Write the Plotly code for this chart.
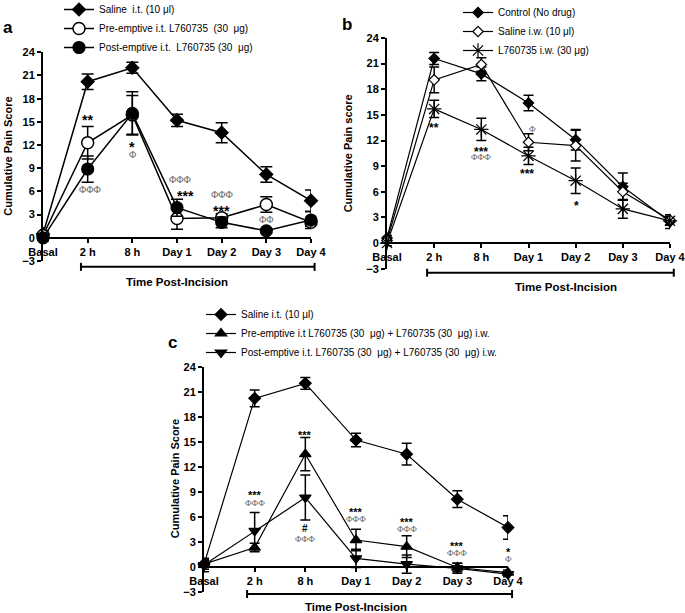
import plotly.graph_objects as go

W, H = 685, 613
times = ["Basal", "2 h", "8 h", "Day 1", "Day 2", "Day 3", "Day 4"]
yticks = [-3, 0, 3, 6, 9, 12, 15, 18, 21, 24]

# ---- panel a ----
a_saline = [0.5, 20.2, 22.0, 15.2, 13.6, 8.2, 4.8]
a_saline_err = [0.4, 1.0, 0.7, 0.8, 1.3, 1.0, 1.4]
a_pre = [0.3, 12.3, 15.9, 2.5, 2.6, 4.3, 2.0]
a_pre_err = [0.4, 2.1, 2.5, 1.4, 0.5, 1.0, 0.5]
a_post = [0.0, 8.9, 16.1, 3.9, 2.0, 0.9, 2.3]
a_post_err = [0.4, 1.7, 2.8, 1.1, 0.7, 0.3, 1.1]
a_marks = [("2 h", 15.7, "**", 0.0), ("2 h", 6.2, "ΦΦΦ", 0.05), ("8 h", 12.2, "*", 0.0),
           ("8 h", 10.8, "Φ", 0.0), ("Day 1", 7.6, "ΦΦΦ", 0.07), ("Day 1", 5.8, "***", 0.18),
           ("Day 2", 5.6, "ΦΦΦ", 0.0), ("Day 2", 3.9, "***", 0.0), ("Day 3", 2.4, "ΦΦ", 0.0)]

# ---- panel b ----
b_control = [0.6, 21.6, 19.8, 16.4, 12.1, 6.6, 2.5]
b_control_err = [0.3, 0.7, 0.8, 0.9, 1.2, 1.6, 0.8]
b_saline = [0.3, 19.1, 20.9, 11.8, 11.4, 6.0, 2.7]
b_saline_err = [0.3, 1.5, 0.8, 1.0, 1.8, 1.0, 0.6]
b_drug = [0.0, 15.7, 13.3, 10.2, 7.3, 4.0, 2.6]
b_drug_err = [0.3, 1.0, 1.3, 1.0, 1.5, 1.1, 0.5]
b_marks = [("2 h", 13.8, "**", 0.0), ("8 h", 11.05, "***", 0.0), ("8 h", 10.07, "ΦΦΦ", 0.0),
           ("Day 1", 13.4, "Φ", 0.08), ("Day 1", 8.5, "***", -0.04), ("Day 2", 4.75, "*", 0.02)]

# ---- panel c ----
c_saline = [0.3, 20.2, 22.0, 15.2, 13.5, 8.1, 4.7]
c_saline_err = [0.4, 1.0, 0.7, 0.8, 1.3, 1.0, 1.4]
c_pre = [0.3, 2.3, 13.5, 3.2, 2.4, -0.1, -0.7]
c_pre_err = [0.6, 0.5, 2.0, 1.3, 1.3, 0.5, 0.3]
c_post = [0.2, 4.3, 8.3, 1.0, 0.3, -0.2, -0.9]
c_post_err = [0.8, 2.2, 2.7, 1.1, 1.1, 0.6, 0.3]
c_marks = [("2 h", 8.9, "***", 0.0), ("2 h", 7.7, "ΦΦΦ", 0.0), ("8 h", 16.2, "***", 0.0),
           ("8 h", 4.6, "#", 0.0), ("8 h", 3.3, "ΦΦΦ", 0.0), ("Day 1", 6.9, "***", 0.0),
           ("Day 1", 5.7, "ΦΦΦ", 0.0), ("Day 2", 5.7, "***", 0.0), ("Day 2", 4.5, "ΦΦΦ", 0.0),
           ("Day 3", 2.8, "***", 0.0), ("Day 3", 1.6, "ΦΦΦ", 0.0), ("Day 4", 2.1, "*", 0.0),
           ("Day 4", 0.9, "Φ", 0.0)]

# panel geometry in pixels: (x of Basal, x of Day 4), (y of 24, y of -3)
panels = {
    "a": dict(px=(43, 311), py=(52.3, 261.0), xa="x", ya="y", leg="legend",
              ytitle="Cumulative Pain Score", ytx=8, tpi=3.0, brk=-3.76, toff=15, lab=(8, 27),
              leg_xy=(59, -5), star=14, phi=10, ms=11, lw=1.5, ew=6),
    "b": dict(px=(387, 670), py=(38.0, 268.7), xa="x2", ya="y2", leg="legend2",
              ytitle="Cumulative Pain score", ytx=348, tpi=3.8, brk=-3.47, toff=14, lab=(347, 25),
              leg_xy=(458, -2), star=12, phi=9, ms=9, lw=1.2, ew=5),
    "c": dict(px=(204, 508), py=(366.7, 591.7), xa="x3", ya="y3", leg="legend3",
              ytitle="Cumulative Pain Score", ytx=175, tpi=3.0, brk=-3.28, toff=13, lab=(172, 342),
              leg_xy=(201, 300), star=11, phi=9, ms=10, lw=1.2, ew=5),
}

fig = go.Figure()

def add(p, name, y, err, symbol, fill, size, lwid=1.2):
    P = panels[p]
    fig.add_trace(go.Scatter(
        x=times, y=y, name=name, mode="lines+markers", xaxis=P["xa"], yaxis=P["ya"],
        legend=P["leg"], cliponaxis=False,
        line=dict(color="black", width=P["lw"]),
        marker=dict(symbol=symbol, size=size, color=fill, line=dict(color="black", width=lwid)),
        error_y=dict(type="data", array=err, color="black", thickness=1.5, width=P["ew"]),
    ))

add("a", "Saline  i.t. (10 μl)", a_saline, a_saline_err, "diamond", "black", 10)
add("a", "Pre-emptive i.t. L760735  (30  μg)", a_pre, a_pre_err, "circle", "white", 12, 1.5)
add("a", "Post-emptive i.t.  L760735 (30  μg)", a_post, a_post_err, "circle", "black", 12)
add("b", "Control (No drug)", b_control, b_control_err, "diamond", "black", 8)
add("b", "Saline i.w. (10 μl)", b_saline, b_saline_err, "diamond", "white", 8, 1.2)
add("b", "L760735 i.w. (30 μg)", b_drug, b_drug_err, "asterisk-open", "black", 12, 1.2)
add("c", "Saline i.t. (10 μl)", c_saline, c_saline_err, "diamond", "black", 9)
add("c", "Pre-emptive i.t L760735 (30  μg) + L760735 (30  μg) i.w.", c_pre, c_pre_err, "triangle-up", "black", 10)
add("c", "Post-emptive i.t. L760735 (30  μg) + L760735 (30  μg) i.w.", c_post, c_post_err, "triangle-down", "black", 10)

def fx(v):
    return v / W

def fy(v):
    return 1 - v / H

annotations = []
shapes = []
layout = {}
bold = dict(family="Liberation Sans", size=11, color="black", weight="bold")
for key, P in panels.items():
    xd = [fx(P["px"][0]), fx(P["px"][1])]
    yd = [fy(P["py"][1]), fy(P["py"][0])]
    zero_pos = yd[0] + (0 - yticks[0]) / (yticks[-1] - yticks[0]) * (yd[1] - yd[0])
    sfx = "" if key == "a" else ("2" if key == "b" else "3")
    layout["xaxis" + sfx] = dict(
        domain=xd, type="category", range=[0, len(times) - 1], anchor="free", position=zero_pos,
        showline=True, linecolor="black", linewidth=2, ticks="outside", ticklen=4, tickwidth=1.5,
        tickcolor="black", showgrid=False, zeroline=False, tickfont=bold, automargin=False,
    )
    layout["yaxis" + sfx] = dict(
        domain=yd, range=[yticks[0], yticks[-1]], anchor="x" + sfx, tickvals=yticks,
        showline=True, linecolor="black", linewidth=2, ticks="outside", ticklen=4, tickwidth=1.5,
        tickcolor="black", showgrid=False, zeroline=False, tickfont=bold, automargin=False,
    )

    def xpap(idx):
        return xd[0] + idx / (len(times) - 1) * (xd[1] - xd[0])

    def ypap(val):
        return yd[0] + (val - yticks[0]) / (yticks[-1] - yticks[0]) * (yd[1] - yd[0])

    # bracket under the time axis
    yb = ypap(P["brk"])
    cap = 4 / H
    for x0, x1, y0, y1 in [(xpap(0.85), xpap(6.08), yb, yb), (xpap(0.85), xpap(0.85), yb - cap, yb + cap),
                           (xpap(6.08), xpap(6.08), yb - cap, yb + cap)]:
        shapes.append(dict(type="line", xref="paper", yref="paper", x0=x0, x1=x1, y0=y0, y1=y1,
                           line=dict(color="black", width=2)))
    annotations.append(dict(xref="paper", yref="paper", x=xpap(P["tpi"]), y=yb - P["toff"] / H,
                            text="Time Post-Incision", showarrow=False, xanchor="center",
                            yanchor="middle", font=dict(family="Liberation Sans", size=11.5,
                                                        color="black", weight="bold")))
    annotations.append(dict(xref="paper", yref="paper", x=fx(P["ytx"]), y=(yd[0] + yd[1]) / 2,
                            text=P["ytitle"], textangle=-90, showarrow=False, xanchor="center",
                            yanchor="middle", font=bold))
    annotations.append(dict(xref="paper", yref="paper", x=fx(P["lab"][0]), y=fy(P["lab"][1]),
                            text=key, showarrow=False, xanchor="center", yanchor="middle",
                            font=dict(family="Liberation Sans", size=17, color="black", weight="bold")))
    marks = {"a": a_marks, "b": b_marks, "c": c_marks}[key]
    for t, yv, txt, dx in marks:
        is_phi = "Φ" in txt
        if is_phi:
            font = dict(family="Liberation Serif", size=P["phi"], color="#6a6a6a")
            yy = yv
        elif txt == "#":
            font = dict(family="Liberation Sans", size=P["star"] - 1, color="black", weight="bold")
            yy = yv
        else:
            font = dict(family="Liberation Sans", size=P["star"], color="black", weight="bold")
            yy = yv - 0.25 * P["star"] / 8.0
        annotations.append(dict(xref=P["xa"], yref=P["ya"], x=times.index(t) + dx, y=yy, text=txt,
                                showarrow=False, xanchor="center", yanchor="middle", font=font))
    lx, ly = P["leg_xy"]
    layout[P["leg"]] = dict(x=fx(lx), y=fy(ly), xanchor="left", yanchor="top",
                            bgcolor="rgba(0,0,0,0)",
                            font=dict(family="Liberation Sans", size=10, color="black"),
                            tracegroupgap=0, itemwidth=30)

fig.update_layout(
    template="none",
    width=W, height=H, margin=dict(l=0, r=0, t=0, b=0, autoexpand=False),
    paper_bgcolor="white", plot_bgcolor="white", showlegend=True,
    font=dict(family="Liberation Sans", color="black"),
    annotations=annotations, shapes=shapes, **layout,
)
fig.write_html("out.html", config={"displayModeBar": False},
               post_script="document.body.style.margin='0';document.body.style.overflow='hidden';")
